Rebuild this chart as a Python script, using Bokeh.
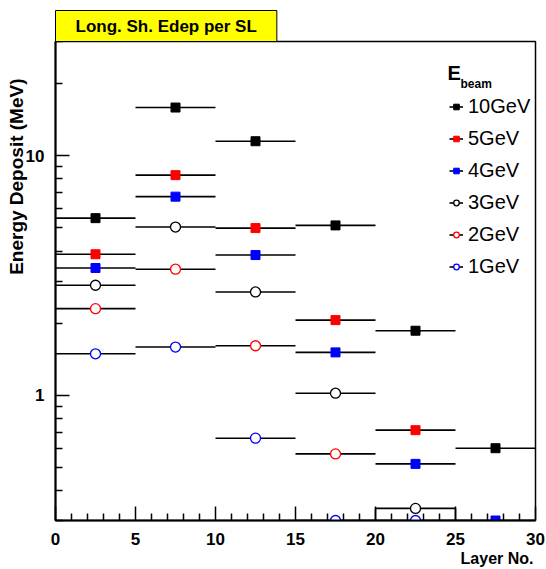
import math
from bokeh.plotting import figure
from bokeh.models import (FixedTicker, Label, Legend, LegendItem, ColumnDataSource,
                          Range1d, BasicTickFormatter, Title)
from bokeh.embed import file_html
from bokeh.resources import INLINE

NAN = float("nan")

# ---- data ----
layer_lo = [0, 5, 10, 15, 20, 25]
layer_hi = [5, 10, 15, 20, 25, 30]
energies = ["10GeV", "5GeV", "4GeV", "3GeV", "2GeV", "1GeV"]
edep_10gev = [5.49, 15.9, 11.5, 5.12, 1.86, 0.601]
edep_5gev = [3.88, 8.30, 4.99, 2.06, 0.715, NAN]
edep_4gev = [3.40, 6.75, 3.85, 1.51, 0.517, 0.30]
edep_3gev = [2.88, 5.04, 2.70, 1.02, 0.337, NAN]
edep_2gev = [2.30, 3.36, 1.61, 0.569, NAN, NAN]
edep_1gev = [1.49, 1.59, 0.662, 0.30, 0.30, NAN]
x_major_ticks = [0, 5, 10, 15, 20, 25, 30]
x_minor_ticks = [i for i in range(0, 31) if i % 5 != 0]
y_major_ticks = [1, 10]
y_minor_ticks = [0.3, 0.4, 0.5, 0.6, 0.7, 0.8, 0.9, 2, 3, 4, 5, 6, 7, 8, 9, 20, 30]

Y_MIN, Y_MAX = 0.3, 30
X_MIN, X_MAX = 0, 30

FONT = "Liberation Sans"

p = figure(width=546, height=569, x_range=Range1d(X_MIN, X_MAX),
           y_range=Range1d(Y_MIN, Y_MAX), y_axis_type="log",
           output_backend="svg", toolbar_location=None,
           min_border_left=55, min_border_right=11,
           min_border_top=41, min_border_bottom=49)
p.background_fill_color = "white"
p.border_fill_color = "white"
p.outline_line_color = "black"
p.outline_line_width = 1.5
p.xgrid.visible = False
p.ygrid.visible = False

for ax in (p.xaxis[0], p.yaxis[0]):
    ax.axis_line_width = 2
    ax.axis_line_color = "black"
    ax.major_tick_in = 14
    ax.major_tick_out = 0
    ax.minor_tick_in = 7
    ax.minor_tick_out = 0
    ax.major_tick_line_width = 1.5
    ax.minor_tick_line_width = 1.5
    ax.major_tick_line_color = "black"
    ax.minor_tick_line_color = "black"
    ax.major_label_text_font = FONT
    ax.major_label_text_font_style = "bold"
    ax.major_label_text_color = "black"

p.xaxis.ticker = FixedTicker(ticks=x_major_ticks, minor_ticks=x_minor_ticks)
p.xaxis.major_label_standoff = 12
p.xaxis.major_label_text_font_size = "17px"
p.yaxis.ticker = FixedTicker(ticks=y_major_ticks, minor_ticks=y_minor_ticks)
p.yaxis.formatter = BasicTickFormatter(use_scientific=False)
p.yaxis.major_label_standoff = 11
p.yaxis.major_label_text_font_size = "17px"

centers = [(a + b) / 2 for a, b in zip(layer_lo, layer_hi)]

series = [
    (energies[0], edep_10gev, "#000000", "square", True),
    (energies[1], edep_5gev, "#ff0000", "square", True),
    (energies[2], edep_4gev, "#0000ff", "square", True),
    (energies[3], edep_3gev, "#000000", "circle", False),
    (energies[4], edep_2gev, "#ff0000", "circle", False),
    (energies[5], edep_1gev, "#0000ff", "circle", False),
]

items = []
for label, vals, color, marker, filled in series:
    idx = [i for i, v in enumerate(vals) if not math.isnan(v)]
    src = ColumnDataSource(dict(
        lo=[layer_lo[i] for i in idx], hi=[layer_hi[i] for i in idx],
        x=[centers[i] for i in idx], y=[vals[i] for i in idx]))
    seg = p.segment(x0="lo", x1="hi", y0="y", y1="y", source=src,
                    line_color="black", line_width=1.6)
    if filled:
        sc = p.scatter("x", "y", source=src, marker="square", size=9,
                       fill_color=color, line_color=color, line_width=1)
    else:
        sc = p.scatter("x", "y", source=src, marker="circle", size=10,
                       fill_color="white", line_color=color, line_width=1.3)
    items.append(LegendItem(label=label, renderers=[seg, sc]))

# 3 GeV histogram edge drop at its last populated bin
last3 = max(i for i, v in enumerate(edep_3gev) if not math.isnan(v))
p.segment(x0=[layer_lo[last3], layer_hi[last3]], x1=[layer_lo[last3], layer_hi[last3]],
          y0=[edep_3gev[last3]] * 2, y1=[Y_MIN] * 2, line_color="black", line_width=1.6)

legend = Legend(items=items, location=(394, 242))
legend.border_line_color = None
legend.background_fill_alpha = 0
legend.padding = 0
legend.margin = 0
legend.spacing = 9
legend.glyph_width = 14
legend.glyph_height = 23
legend.label_height = 23
legend.label_standoff = 5
legend.label_text_font = FONT
legend.label_text_font_size = "20px"
legend.label_text_color = "black"
p.add_layout(legend, "center")

# E_beam header
p.add_layout(Label(x=392, y=448, x_units="screen", y_units="screen", text="E",
                   text_font=FONT, text_font_style="bold", text_font_size="20px",
                   text_baseline="middle", text_align="left", text_color="black"))
p.add_layout(Label(x=405, y=437, x_units="screen", y_units="screen", text="beam",
                   text_font=FONT, text_font_style="bold", text_font_size="12px",
                   text_baseline="middle", text_align="left", text_color="black"))

# title box
p.title = Title(text="Long. Sh. Edep per SL", align="left", offset=0, standoff=0,
                vertical_align="bottom",
                text_font=FONT, text_font_style="bold", text_font_size="17px",
                text_color="black",
                background_fill_color="#ffff00", border_line_color="black",
                border_line_width=1,
                padding=dict(left=20, right=20, top=6, bottom=6))

# axis titles
p.add_layout(Title(text="Energy Deposit (MeV)", align="right", offset=37, standoff=-8,
                   vertical_align="bottom",
                   text_font=FONT, text_font_style="bold", text_font_size="19px",
                   text_color="black"), "left")
p.add_layout(Title(text="Layer No.", align="right", offset=2, standoff=0,
                   vertical_align="bottom",
                   text_font=FONT, text_font_style="bold", text_font_size="16px",
                   text_color="black"), "below")

open("out.html", "w").write(file_html(p, INLINE))
